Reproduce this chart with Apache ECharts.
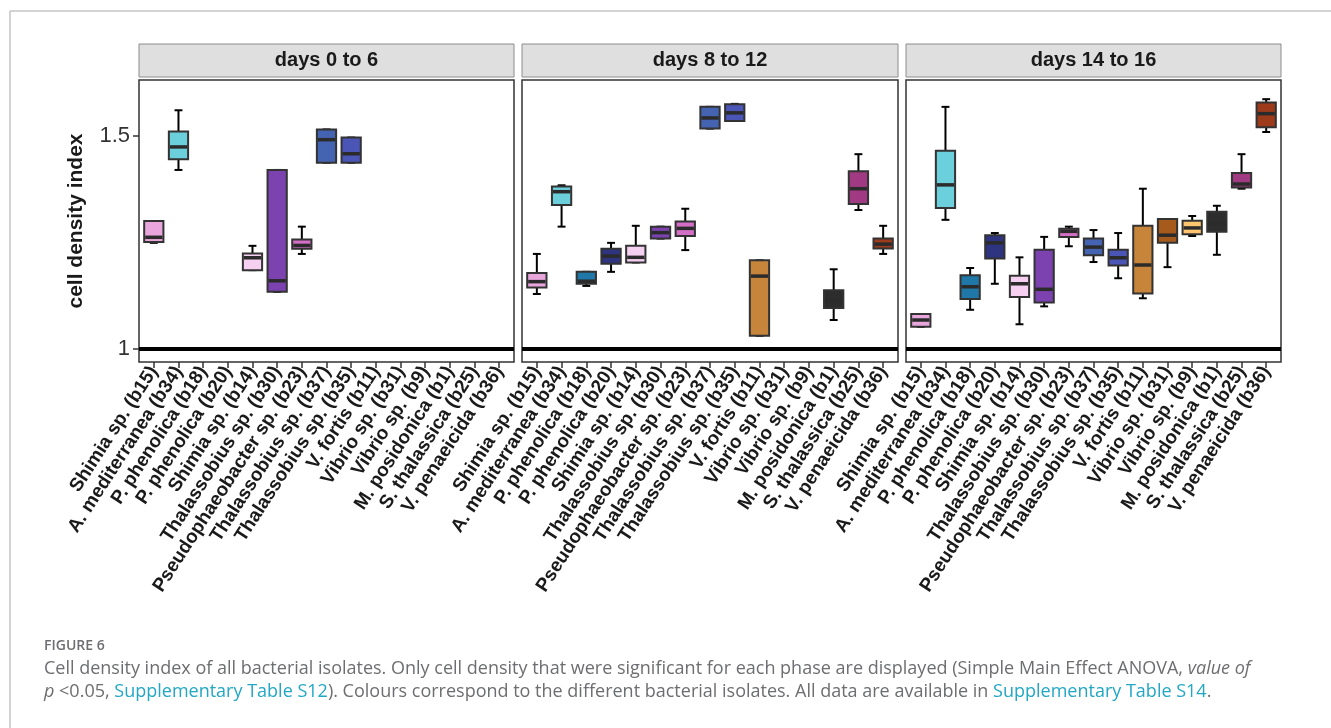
<!DOCTYPE html>
<html><head><meta charset="utf-8">
<script src="https://cdn.jsdelivr.net/npm/echarts@6/dist/echarts.min.js"></script>
<style>html,body{margin:0;padding:0;background:#fff}#c{width:1331px;height:728px}</style>
</head><body><div id="c"></div>
<script>
// ---------------- DATA ----------------
const categories = ['Shimia sp. (b15)','A. mediterranea (b34)','P. phenolica (b18)','P. phenolica (b20)','Shimia sp. (b14)','Thalassobius sp. (b30)','Pseudophaeobacter sp. (b23)','Thalassobius sp. (b37)','Thalassobius sp. (b35)','V. fortis (b11)','Vibrio sp. (b31)','Vibrio sp. (b9)','M. posidonica (b1)','S. thalassica (b25)','V. penaeicida (b36)'];
const isolateColors = ['#E8A6DC','#6CCFDC','#2078A8','#2E3480','#F6D0F0','#7B42B0','#D46FC6','#4463B1','#4A55B5','#C6853A','#A65A1C','#FFC56E','#2D2D2D','#A03A82','#9C3A1A'];
const panelTitles = ['days 0 to 6','days 8 to 12','days 14 to 16'];
const yTicks = [1, 1.5];
const referenceLevel = 1;
// each entry: [low whisker, Q1, median, Q3, high whisker]; null = not significant in that phase
const days0to6 = [
  [1.249,1.251,1.262,1.300,1.300],
  [1.420,1.445,1.474,1.510,1.560],
  null,
  null,
  [1.185,1.185,1.214,1.224,1.242],
  [1.134,1.134,1.160,1.420,1.420],
  [1.223,1.235,1.243,1.257,1.287],
  [1.437,1.437,1.491,1.515,1.515],
  [1.437,1.437,1.458,1.496,1.496],
  null, null, null, null, null, null
];
const days8to12 = [
  [1.129,1.144,1.158,1.178,1.223],
  [1.287,1.338,1.369,1.381,1.384],
  [1.148,1.153,1.159,1.181,1.181],
  [1.181,1.200,1.218,1.235,1.249],
  [1.203,1.203,1.215,1.242,1.289],
  [1.259,1.259,1.273,1.287,1.287],
  [1.232,1.265,1.283,1.299,1.329],
  [1.517,1.517,1.542,1.568,1.568],
  [1.535,1.535,1.554,1.574,1.575],
  [1.031,1.031,1.171,1.208,1.208],
  null,
  null,
  [1.068,1.096,1.114,1.138,1.187],
  [1.326,1.340,1.376,1.417,1.457],
  [1.223,1.236,1.246,1.259,1.289]
];
const days14to16 = [
  [1.052,1.052,1.068,1.082,1.082],
  [1.303,1.331,1.385,1.465,1.568],
  [1.092,1.117,1.146,1.173,1.190],
  [1.153,1.212,1.249,1.267,1.272],
  [1.058,1.122,1.153,1.172,1.215],
  [1.100,1.109,1.140,1.233,1.263],
  [1.241,1.263,1.276,1.282,1.287],
  [1.204,1.220,1.239,1.259,1.279],
  [1.166,1.196,1.214,1.233,1.272],
  [1.119,1.130,1.197,1.289,1.376],
  [1.192,1.249,1.267,1.305,1.305],
  [1.265,1.269,1.284,1.301,1.312],
  [1.221,1.275,1.294,1.322,1.336],
  [1.376,1.379,1.387,1.413,1.457],
  [1.509,1.520,1.552,1.578,1.586]
];
const panels = [days0to6, days8to12, days14to16];

// ---------------- LAYOUT ----------------
const gridBoxes = [
  {left:139, width:375},
  {left:522, width:376},
  {left:906, width:375}
];
const GRID_TOP = 80, GRID_H = 282;
const BOX_W = 0.78, CAP_W = 0.32;
const FONT = '"Liberation Sans", Arial, sans-serif';

function renderBox(params, api) {
  const x = api.value(0);
  const lo = api.coord([x, api.value(1)]);
  const q1 = api.coord([x, api.value(2)]);
  const md = api.coord([x, api.value(3)]);
  const q3 = api.coord([x, api.value(4)]);
  const hi = api.coord([x, api.value(5)]);
  const color = isolateColors[api.value(6)];
  const hw = api.size([BOX_W, 0])[0] / 2;
  const cw = api.size([CAP_W, 0])[0] / 2;
  const cx = md[0];
  const wStyle = {stroke:'#000', lineWidth:2};
  return {
    type:'group',
    children:[
      {type:'line', shape:{x1:cx,y1:hi[1],x2:cx,y2:q3[1]}, style:wStyle},
      {type:'line', shape:{x1:cx-cw,y1:hi[1],x2:cx+cw,y2:hi[1]}, style:wStyle},
      {type:'line', shape:{x1:cx,y1:q1[1],x2:cx,y2:lo[1]}, style:wStyle},
      {type:'line', shape:{x1:cx-cw,y1:lo[1],x2:cx+cw,y2:lo[1]}, style:wStyle},
      {type:'rect', shape:{x:cx-hw, y:q3[1], width:2*hw, height:q1[1]-q3[1]},
        style:{fill:color, stroke:'#333', lineWidth:2}},
      {type:'line', shape:{x1:cx-hw+1,y1:md[1],x2:cx+hw-1,y2:md[1]}, style:{stroke:'#2b2b2b', lineWidth:3.5}}
    ]
  };
}

const grids = [], xAxes = [], yAxes = [], series = [], graphics = [];
const catPositions = categories.map((c,i)=>i+1);
panels.forEach((panel, p) => {
  grids.push({left:gridBoxes[p].left, width:gridBoxes[p].width, top:GRID_TOP, height:GRID_H,
    show:true, borderColor:'#333', borderWidth:1.5, backgroundColor:'#fff'});
  xAxes.push({type:'value', gridIndex:p, min:0.4, max:15.6,
    axisLine:{show:false}, splitLine:{show:false},
    axisTick:{show:true, customValues:catPositions, length:6, lineStyle:{color:'#333', width:1.5}},
    axisLabel:{show:true, customValues:catPositions, rotate:57, margin:6,
      fontFamily:FONT, fontSize:19, fontWeight:'bold', color:'#1a1a1a',
      formatter:v=>categories[Math.round(v)-1]}
  });
  yAxes.push({type:'value', gridIndex:p, min:0.9695, max:1.631,
    axisLine:{show:false}, splitLine:{show:false},
    axisTick:{show:p===0, customValues:yTicks, length:6, lineStyle:{color:'#333', width:1.5}},
    axisLabel:{show:p===0, customValues:yTicks, margin:9, fontFamily:FONT, fontSize:22, color:'#333',
      formatter:v=>String(v)},
    name:p===0?'cell density index':'', nameLocation:'middle', nameGap:52,
    nameTextStyle:{fontFamily:FONT, fontSize:21, fontWeight:'bold', color:'#1a1a1a'}
  });
  series.push({type:'line', xAxisIndex:p, yAxisIndex:p, silent:true, symbol:'none',
    data:[[0.4,referenceLevel],[15.6,referenceLevel]], lineStyle:{color:'#000', width:4}, z:3});
  const d = [];
  panel.forEach((v,i)=>{ if(v) d.push([i+1, v[0], v[1], v[2], v[3], v[4], i]); });
  series.push({type:'custom', xAxisIndex:p, yAxisIndex:p, renderItem:renderBox, data:d, z:4,
    encode:{x:0, y:[1,2,3,4,5]}});
  // strip header
  graphics.push({type:'rect', shape:{x:gridBoxes[p].left, y:44, width:gridBoxes[p].width, height:33},
    style:{fill:'#E0DFE0', stroke:'#8c8c8c', lineWidth:1}});
  graphics.push({type:'text', x:gridBoxes[p].left+gridBoxes[p].width/2, y:60.5,
    style:{text:panelTitles[p], fontFamily:FONT, fontSize:20, fontWeight:'bold', fill:'#1a1a1a',
      align:'center', verticalAlign:'middle'}});
});

// figure frame & caption
graphics.push({type:'line', shape:{x1:10,y1:11,x2:1331,y2:11}, style:{stroke:'#C4C4C4', lineWidth:1.5}});
graphics.push({type:'line', shape:{x1:10,y1:11,x2:10,y2:728}, style:{stroke:'#C4C4C4', lineWidth:1.5}});
const CAP_FONT = '"Open Sans", "Noto Sans", sans-serif';
graphics.push({type:'text', x:44, y:646, style:{text:'FIGURE 6', fontFamily:CAP_FONT, fontSize:14, fontWeight:600,
  fill:'#6D6E71', verticalAlign:'middle'}});
graphics.push({type:'text', x:44, y:669, style:{
  text:'Cell density index of all bacterial isolates. Only cell density that were significant for each phase are displayed (Simple Main Effect ANOVA, {i|value of}',
  fontFamily:CAP_FONT, fontSize:18, fill:'#6D6E71', verticalAlign:'middle',
  rich:{i:{fontStyle:'italic', fontFamily:CAP_FONT, fontSize:18, fill:'#6D6E71'}}}});
graphics.push({type:'text', x:44, y:692, style:{
  text:'{i|p} <0.05, {a|Supplementary Table S12}). Colours correspond to the different bacterial isolates. All data are available in {a|Supplementary Table S14}.',
  fontFamily:CAP_FONT, fontSize:18, fill:'#6D6E71', verticalAlign:'middle',
  rich:{i:{fontStyle:'italic', fontFamily:CAP_FONT, fontSize:18, fill:'#6D6E71'},
        a:{fontFamily:CAP_FONT, fontSize:18, fill:'#22A7C4'}}}});

const chart = echarts.init(document.getElementById('c'), null, {renderer:'canvas'});
chart.setOption({
  animation:false,
  backgroundColor:'#fff',
  grid:grids, xAxis:xAxes, yAxis:yAxes, series:series, graphic:graphics
});
</script></body></html>
